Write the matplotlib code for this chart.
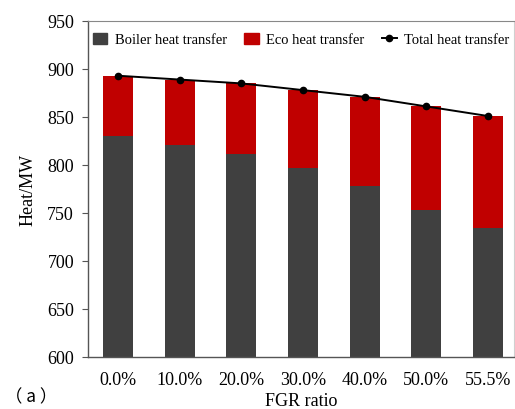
import matplotlib
matplotlib.use("Agg")
import matplotlib.pyplot as plt
import numpy as np
from matplotlib.lines import Line2D
from matplotlib.patches import Patch

plt.rcParams['font.family'] = ['Liberation Serif', 'DejaVu Serif']

categories = ["0.0%", "10.0%", "20.0%", "30.0%", "40.0%", "50.0%", "55.5%"]
boiler = [830, 821, 811, 797, 778, 753, 734]
total = [893, 889, 885, 878, 871, 861, 851]
eco = [t - b for t, b in zip(total, boiler)]

fig = plt.figure(figsize=(5.15, 4.10), dpi=100)
ax = fig.add_axes([88 / 515, 1 - 358 / 410, 426 / 515, 336 / 410])

x = np.arange(len(categories))
w = 0.485
ax.bar(x, boiler, width=w, color="#404040", bottom=0, zorder=2)
ax.bar(x, eco, width=w, bottom=boiler, color="#c00000", zorder=2)
ax.plot(x, total, color="black", lw=1.4, marker="o", ms=4.5, zorder=3)

ax.set_ylim(600, 950)
ax.set_yticks(np.arange(600, 951, 50))
ax.set_xlim(-0.485, 6.42)
ax.set_xticks(x)
ax.set_xticklabels(categories)
ax.tick_params(axis="y", direction="out", length=4, width=0.8, color="#555555",
               labelsize=13, pad=6)
ax.tick_params(axis="x", length=0, labelsize=13, pad=10)

for side in ["left", "bottom"]:
    ax.spines[side].set_color("#555555")
    ax.spines[side].set_linewidth(1.0)
ax.spines["top"].set_color("#888888")
ax.spines["right"].set_color("#d0d0d0")

ax.set_ylabel("Heat/MW", fontsize=13, labelpad=8)
ax.set_xlabel("FGR ratio", fontsize=13, labelpad=3)
fig.text(5 / 515, 1 - 397 / 410, "（ a ）", fontsize=12.5, va="center", ha="left",
         family=['Noto Sans CJK SC', 'Liberation Serif'])

handles = [
    Patch(color="#404040", label="Boiler heat transfer"),
    Patch(color="#c00000", label="Eco heat transfer"),
    Line2D([0], [0], color="black", lw=1.4, marker="o", ms=4.5,
           label="Total heat transfer"),
]
ax.legend(handles=handles, loc="upper center", ncol=3, frameon=False,
          fontsize=10.5, handlelength=1.0, handleheight=0.8, handletextpad=0.5,
          columnspacing=1.2, bbox_to_anchor=(0.5, 1.0), borderaxespad=0.4)

fig.savefig("out.png", dpi=100)
